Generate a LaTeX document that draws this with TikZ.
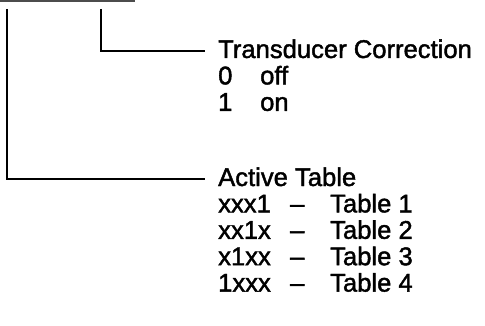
\documentclass[tikz,border=0pt]{standalone}
\usepackage{fontspec}
\setmainfont{Liberation Sans}
\newfontface\scanface{Liberation Sans}[Ligatures=TeX, FakeBold=1.6]
\usetikzlibrary{positioning}
\tikzset{
  heading/.style={anchor=west, inner sep=0pt, text height=19pt, text depth=5pt, font=\scanface\fontsize{25.6}{26}\selectfont},
  optrow/.style={anchor=north west, inner sep=0pt, text height=19pt, text depth=5pt, font=\scanface\fontsize{25.6}{26}\selectfont},
  leader/.style={line width=2.8pt, shorten >=13pt},
  cutedge/.style={line width=2pt, black!70},
}
\newcommand{\bitcol}[2]{\makebox[#1][l]{#2}}

\begin{document}
\begin{tikzpicture}[x=1pt, y=-1pt]
  \useasboundingbox (0,0) rectangle (485,326);
  % ends of the two leaders and the cut edge at the top
  \coordinate (cutleft) at (0,1);
  \coordinate (cutright) at (135,1);
  \coordinate (outertop) at (7,9);
  \coordinate (innertop) at (101,9);

  \node[heading] (trans) at (218,51) {Transducer Correction};
  \node[optrow, below=2pt of trans.south west, anchor=north west] (transoff) {\bitcol{42pt}{0}off};
  \node[optrow, below=2pt of transoff.south west, anchor=north west] (transon) {\bitcol{42pt}{1}on};

  \node[heading] (active) at (218,179) {Active Table};
  \node[optrow, below=2pt of active.south west, anchor=north west] (tabone) {\bitcol{72pt}{xxx1}\bitcol{40pt}{--}Table 1};
  \node[optrow, below=2pt of tabone.south west, anchor=north west] (tabtwo) {\bitcol{72pt}{xx1x}\bitcol{40pt}{--}Table 2};
  \node[optrow, below=2pt of tabtwo.south west, anchor=north west] (tabthree) {\bitcol{72pt}{x1xx}\bitcol{40pt}{--}Table 3};
  \node[optrow, below=2pt of tabthree.south west, anchor=north west] (tabfour) {\bitcol{72pt}{1xxx}\bitcol{40pt}{--}Table 4};

  \draw[cutedge] (cutleft) -- (cutright);
  \draw[leader] (innertop) |- (trans.west);
  \draw[leader] (outertop) |- (active.west);
\end{tikzpicture}
\end{document}
